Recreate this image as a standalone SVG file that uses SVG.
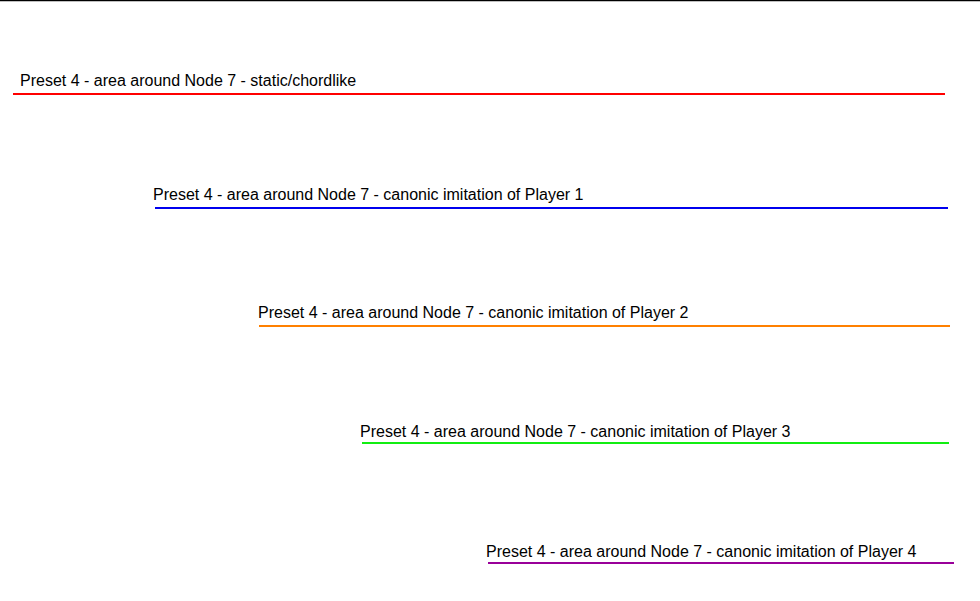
<svg xmlns="http://www.w3.org/2000/svg" width="980" height="601" viewBox="0 0 980 601">
  <style>
    .lbl { font-family: "Liberation Sans", Arial, sans-serif; font-size: 16px; fill: #000; }
    .trk { stroke-width: 2.2; fill: none; }
  </style>
  <rect x="0" y="0" width="980" height="601" fill="#fff"/>
  <line x1="0" y1="0.5" x2="980" y2="0.5" stroke="#000" stroke-width="1.5"/>
  <g id="connectors">
    <line class="trk" x1="13" y1="94" x2="945" y2="94" stroke="#ff0000"/>
    <line class="trk" x1="155" y1="208" x2="948" y2="208" stroke="#0000ee"/>
    <line class="trk" x1="259" y1="326" x2="950" y2="326" stroke="#ff8000"/>
    <line class="trk" x1="362" y1="443" x2="949" y2="443" stroke="#11ee11"/>
    <line class="trk" x1="488" y1="563" x2="954" y2="563" stroke="#990099"/>
  </g>
  <g id="track1"><text class="lbl" x="20" y="86">Preset 4 - area around Node 7 - static/chordlike</text></g>
  <g id="track2"><text class="lbl" x="153" y="200">Preset 4 - area around Node 7 - canonic imitation of Player 1</text></g>
  <g id="track3"><text class="lbl" x="258" y="318">Preset 4 - area around Node 7 - canonic imitation of Player 2</text></g>
  <g id="track4"><text class="lbl" x="360" y="437">Preset 4 - area around Node 7 - canonic imitation of Player 3</text></g>
  <g id="track5"><text class="lbl" x="486" y="557">Preset 4 - area around Node 7 - canonic imitation of Player 4</text></g>
</svg>
